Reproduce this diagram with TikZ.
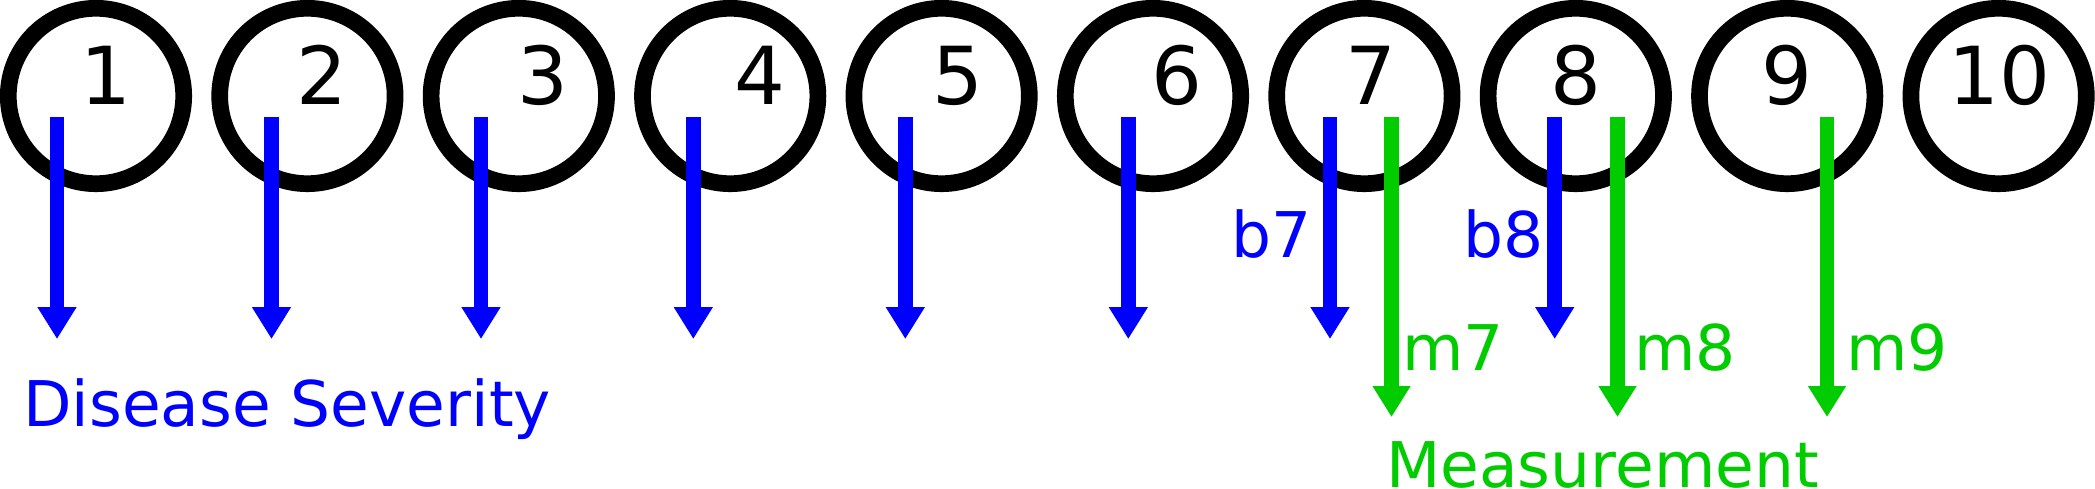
\documentclass[tikz,border=0pt]{standalone}
\usepackage{fontspec}
\setmainfont{DejaVu Sans}
\usetikzlibrary{arrows.meta}
\definecolor{mgreen}{RGB}{0,204,0}
\definecolor{mblue}{RGB}{0,0,255}
\tikzset{
  ring/.style={circle,draw=black,line width=16.7pt,minimum size=175.4pt,inner sep=0pt},
  num/.style={anchor=base,inner sep=0pt,font=\fontsize{80}{96}\selectfont},
  sevarrow/.style={draw=mblue,line width=14.7pt,-{Triangle[length=32pt,width=37pt]},fill=mblue},
  measarrow/.style={draw=mgreen,line width=14.7pt,-{Triangle[length=31pt,width=36pt]},fill=mgreen},
  lbl/.style={anchor=base west,inner sep=0pt,font=\fontsize{63}{76}\selectfont},
}
\begin{document}
\begin{tikzpicture}[x=1pt,y=-1pt]
\useasboundingbox (0,0) rectangle (2095,489);
% circles
\foreach \i in {1,...,10} {
  \node[ring] (c\i) at ({96+(\i-1)*211.4},96) {};
}
% numbers
\node[num] (n1) at (106,105) {1};
\node[num] (n2) at (322,105) {2};
\node[num] (n3) at (543,105) {3};
\node[num] (n4) at (760,105) {4};
\node[num] (n5) at (958,105) {5};
\node[num] (n6) at (1177,105) {6};
\node[num] (n7) at (1371,105) {7};
\node[num] (n8) at (1576,105) {8};
\node[num] (n9) at (1787,105) {9};
\node[num] (n10) at (1999,105) {10};
% severity arrows
\foreach \n/\x in {1/57,2/271.5,3/481,4/693.3,5/905.3,6/1128.3,7/1330,8/1554.7} {
  \coordinate (bs\n) at (\x,117);
  \coordinate (be\n) at (\x,339);
  \draw[sevarrow] (bs\n) -- (be\n);
}
% measurement arrows
\foreach \n/\x in {7/1391.5,8/1617.5,9/1827} {
  \coordinate (ms\n) at (\x,117);
  \coordinate (me\n) at (\x,417);
  \draw[measarrow] (ms\n) -- (me\n);
}
% labels
\node[lbl,text=mblue] (b7) at (1231,257) {b7};
\node[lbl,text=mblue] (b8) at (1463,257) {b8};
\node[lbl,text=mgreen] (m7) at (1402,370) {m7};
\node[lbl,text=mgreen] (m8) at (1634,370) {m8};
\node[lbl,text=mgreen] (m9) at (1846,370) {m9};
\node[lbl,text=mblue] (sev) at (23,426) {Disease Severity};
\node[lbl,text=mgreen] (meas) at (1386,487) {Measurement};
\end{tikzpicture}
\end{document}
